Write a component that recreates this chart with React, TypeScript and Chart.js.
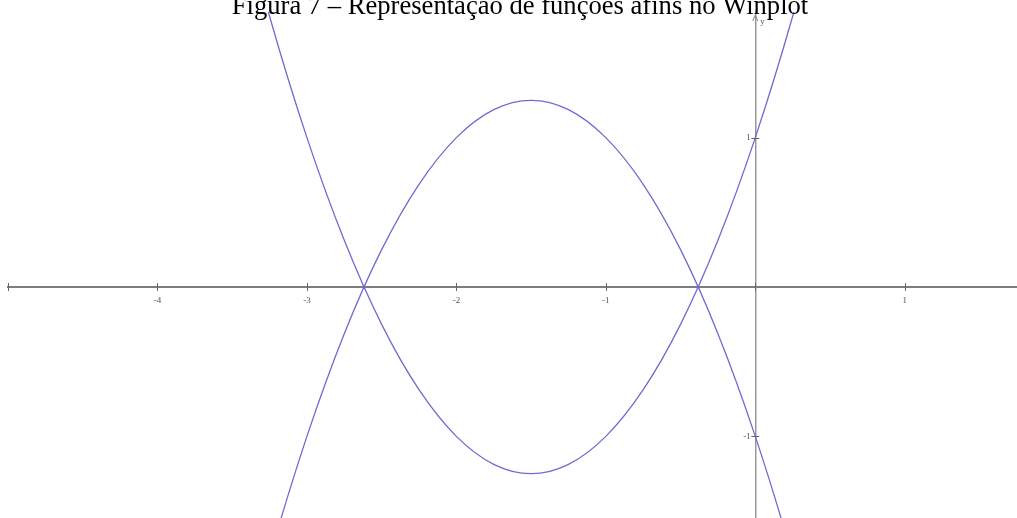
import React, { useEffect, useRef } from 'react';
import { Chart, registerables } from 'chart.js';

Chart.register(...registerables);

// Figure caption
const TITLE = 'Figura 7 – Representação de funções afins no Winplot';

// Sampled points of the two curves (x, y)
const xValues = [-3.5, -3.25, -3, -2.75, -2.5, -2.25, -2, -1.75, -1.5, -1.25, -1, -0.75, -0.5, -0.25, 0, 0.25, 0.5];
const upwardValues = [2.75, 1.8125, 1, 0.3125, -0.25, -0.6875, -1, -1.1875, -1.25, -1.1875, -1, -0.6875, -0.25, 0.3125, 1, 1.8125, 2.75];
const downwardValues = [-2.75, -1.8125, -1, -0.3125, 0.25, 0.6875, 1, 1.1875, 1.25, 1.1875, 1, 0.6875, 0.25, -0.3125, -1, -1.8125, -2.75];

// Axis ticks
const xTickValues = [-5, -4, -3, -2, -1, 0, 1];
const xTickLabels = ['', '-4', '-3', '-2', '-1', '', '1'];
const yTickValues = [-1, 1];
const yTickLabels = ['-1', '1'];

// Visible window (same unit length on both axes)
const X_MIN = -5;
const X_MAX = 1.751;
const Y_MIN = -1.546;
const Y_MAX = 1.841;

const CURVE_COLOR = 'rgb(108, 108, 210)';
const AXIS_COLOR = '#7d7d7d';

const decorPlugin = {
  id: 'graphDecor',
  afterDraw(chart: any) {
    const { ctx, chartArea, scales } = chart;
    const xs = scales.x;
    const ys = scales.y;
    const axisY = ys.getPixelForValue(0);
    const axisX = xs.getPixelForValue(0);
    ctx.save();

    // crossing tick marks on both axes
    ctx.strokeStyle = '#666';
    ctx.lineWidth = 1;
    ctx.beginPath();
    xTickValues.forEach((v) => {
      const px = Math.round(xs.getPixelForValue(v)) + 0.5;
      ctx.moveTo(px, axisY - 4);
      ctx.lineTo(px, axisY + 4);
    });
    yTickValues.forEach((v) => {
      const py = Math.round(ys.getPixelForValue(v)) + 0.5;
      ctx.moveTo(axisX - 4, py);
      ctx.lineTo(axisX + 4, py);
    });
    ctx.stroke();

    // arrow head on the vertical axis
    const top = chartArea.top + 3;
    ctx.strokeStyle = '#888';
    ctx.beginPath();
    ctx.moveTo(axisX - 2.5, top + 6);
    ctx.lineTo(axisX, top);
    ctx.lineTo(axisX + 2.5, top + 6);
    ctx.stroke();

    ctx.fillStyle = '#555';
    ctx.font = '9px "Liberation Serif"';
    ctx.textAlign = 'left';
    ctx.textBaseline = 'alphabetic';
    ctx.fillText('y', axisX + 5, top + 9);

    // caption
    ctx.fillStyle = '#000';
    ctx.font = '26.6px "Liberation Serif"';
    ctx.textAlign = 'center';
    ctx.fillText(TITLE, 520, 14);
    ctx.restore();
  },
};

const isYEnd = (v: number) => v === Y_MIN || v === Y_MAX;

export default function App() {
  const canvasRef = useRef<HTMLCanvasElement | null>(null);

  useEffect(() => {
    if (!canvasRef.current) return;
    const toPoints = (ys: number[]) => xValues.map((x, i) => ({ x, y: ys[i] }));
    const chart = new Chart(canvasRef.current, {
      type: 'line',
      data: {
        datasets: [
          {
            data: toPoints(upwardValues),
            borderColor: CURVE_COLOR,
            borderWidth: 1.3,
            pointRadius: 0,
            cubicInterpolationMode: 'monotone',
            fill: false,
          },
          {
            data: toPoints(downwardValues),
            borderColor: CURVE_COLOR,
            borderWidth: 1.3,
            pointRadius: 0,
            cubicInterpolationMode: 'monotone',
            fill: false,
          },
        ],
      },
      options: {
        animation: false,
        responsive: true,
        maintainAspectRatio: false,
        layout: { padding: { left: 8, top: 12, right: 0, bottom: 0 } },
        plugins: {
          legend: { display: false },
          tooltip: { enabled: false },
          title: { display: false },
        },
        scales: {
          x: {
            type: 'linear',
            min: X_MIN,
            max: X_MAX,
            position: { y: 0 },
            afterBuildTicks: (scale: any) => {
              scale.ticks = xTickValues.map((value) => ({ value }));
            },
            grid: { display: false, drawTicks: false },
            border: { display: true, color: AXIS_COLOR, width: 2 },
            ticks: {
              autoSkip: false,
              maxRotation: 0,
              padding: 8,
              color: '#555',
              font: { family: 'Liberation Serif', size: 9 },
              callback: (value: any) => {
                const i = xTickValues.indexOf(Number(value));
                return i >= 0 ? xTickLabels[i] : '';
              },
            },
          },
          y: {
            type: 'linear',
            min: Y_MIN,
            max: Y_MAX,
            position: { x: 0 },
            // blank, tiny end ticks so the labels reserve no room
            afterBuildTicks: (scale: any) => {
              scale.ticks = [Y_MIN, ...yTickValues, Y_MAX].map((value) => ({ value }));
            },
            grid: { display: false, drawTicks: false },
            border: { display: true, color: '#999', width: 1.5 },
            ticks: {
              autoSkip: false,
              padding: 0,
              color: '#555',
              font: (ctx: any) => ({
                family: 'Liberation Serif',
                size: ctx.tick && isYEnd(ctx.tick.value) ? 0.1 : 9,
              }),
              callback: (value: any) => {
                const i = yTickValues.indexOf(Number(value));
                return i >= 0 ? yTickLabels[i] + '\u2002' : '';
              },
            },
          },
        },
      },
      plugins: [decorPlugin],
    });
    return () => chart.destroy();
  }, []);

  return (
    <div style={{ position: 'fixed', left: 0, top: 0, width: 1017, height: 518, background: '#fff' }}>
      <canvas ref={canvasRef} />
    </div>
  );
}
